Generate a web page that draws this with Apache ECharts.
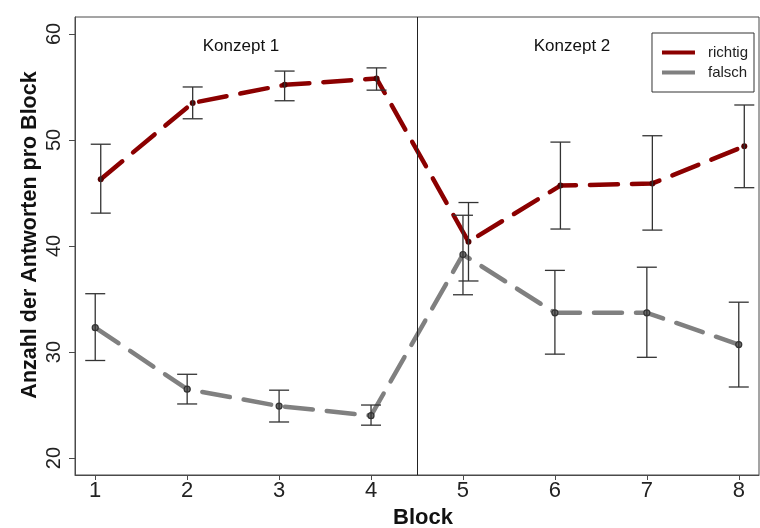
<!DOCTYPE html>
<html>
<head>
<meta charset="utf-8">
<script src="https://cdn.jsdelivr.net/npm/echarts@6/dist/echarts.min.js"></script>
<style>html,body{margin:0;padding:0;background:#fff}#c{width:760px;height:528px}</style>
</head>
<body>
<div id="c"></div>
<script>
const blocks = [1, 2, 3, 4, 5, 6, 7, 8];
const richtig = [46.3, 53.5, 55.2, 55.8, 40.4, 45.7, 45.9, 49.4];
const richtigLow = [43.1, 52.0, 53.7, 54.7, 36.7, 41.6, 41.5, 45.5];
const richtigHigh = [49.6, 55.0, 56.5, 56.8, 44.1, 49.8, 50.4, 53.3];
const falsch = [32.3, 26.5, 24.9, 24.0, 39.2, 33.7, 33.7, 30.7];
const falschLow = [29.2, 25.1, 23.4, 23.1, 35.4, 29.8, 29.5, 26.7];
const falschHigh = [35.5, 27.9, 26.4, 25.0, 42.9, 37.7, 38.0, 34.7];
const yTicks = [20, 30, 40, 50, 60];
const seriesNames = ['richtig', 'falsch'];
const conceptLabels = ['Konzept 1', 'Konzept 2'];
const conceptBoundary = 4.5;

const dodgeRichtig = 0.06;
const dodgeFalsch = 0;

function pts(vals, dodge) { return blocks.map((b, i) => [b + dodge, vals[i]]); }
function errs(lo, hi, dodge) { return blocks.map((b, i) => [b + dodge, lo[i], hi[i]]); }

function errRender(params, api) {
  const x = api.value(0), lo = api.value(1), hi = api.value(2);
  const a = api.coord([x, lo]), b = api.coord([x, hi]);
  const w = 10;
  const st = { stroke: '#333', lineWidth: 1.3 };
  return {
    type: 'group',
    children: [
      { type: 'line', shape: { x1: a[0], y1: a[1], x2: b[0], y2: b[1] }, style: st },
      { type: 'line', shape: { x1: a[0] - w, y1: a[1], x2: a[0] + w, y2: a[1] }, style: st },
      { type: 'line', shape: { x1: b[0] - w, y1: b[1], x2: b[0] + w, y2: b[1] }, style: st }
    ]
  };
}

const chart = echarts.init(document.getElementById('c'), null, { renderer: 'canvas' });
const font = "'Liberation Sans', Arial, sans-serif";
chart.setOption({
  animation: false,
  textStyle: { fontFamily: font },
  grid: { left: 75, top: 17, right: 1, bottom: 53, show: true, borderColor: '#4a4a4a', borderWidth: 1, containLabel: false, outerBoundsMode: 'none' },
  xAxis: {
    type: 'value', min: 0.78, max: 8.22,
    name: 'Block', nameLocation: 'middle', nameGap: 32, nameMoveOverlap: false,
    nameTextStyle: { fontSize: 22, fontWeight: 'bold', color: '#111', fontFamily: font, padding: [0, 0, 0, 12] },
    axisLine: { show: true, lineStyle: { color: '#4a4a4a', width: 1 } },
    axisTick: { show: true, length: 5, inside: false, customValues: blocks, lineStyle: { color: '#4a4a4a' } },
    axisLabel: { customValues: blocks, margin: 5, fontSize: 22, color: '#222', fontFamily: "'Liberation Sans Narrow', 'Arial Narrow', 'Liberation Sans', sans-serif" },
    splitLine: { show: false }
  },
  yAxis: {
    type: 'value', min: 18.4, max: 61.6,
    name: 'Anzahl der Antworten pro Block', nameLocation: 'middle', nameGap: 34, nameRotate: 90, nameMoveOverlap: false,
    nameTextStyle: { fontSize: 21.5, fontWeight: 'bold', color: '#111', fontFamily: font, padding: [0, 0, 0, 22] },
    axisLine: { show: true, lineStyle: { color: '#4a4a4a', width: 1 } },
    axisTick: { show: true, length: 6, customValues: yTicks, lineStyle: { color: '#4a4a4a' } },
    axisLabel: { customValues: yTicks, rotate: 90, margin: 11, fontSize: 20, color: '#222' },
    splitLine: { show: false }
  },
  legend: {
    right: 6, top: 33, orient: 'vertical',
    padding: [12, 6, 12, 10], itemGap: 5, itemWidth: 33, itemHeight: 4, icon: 'rect',
    borderColor: '#333', borderWidth: 1,
    textStyle: { fontSize: 15, color: '#222', padding: [0, 0, 0, 8], lineHeight: 14 },
    data: [
      { name: seriesNames[0], itemStyle: { color: '#8b0000', borderWidth: 0 } },
      { name: seriesNames[1], itemStyle: { color: '#808080', borderWidth: 0 } }
    ]
  },
  graphic: [
    { type: 'text', x: 241, y: 46, style: { text: conceptLabels[0], font: "17px 'Liberation Sans', Arial, sans-serif", fill: '#111', align: 'center', verticalAlign: 'middle' } },
    { type: 'text', x: 572, y: 46, style: { text: conceptLabels[1], font: "17px 'Liberation Sans', Arial, sans-serif", fill: '#111', align: 'center', verticalAlign: 'middle' } }
  ],
  series: [
    {
      name: seriesNames[0], type: 'line', data: pts(richtig, dodgeRichtig), z: 3,
      symbol: 'circle', symbolSize: 6, showSymbol: true,
      lineStyle: { color: '#8b0000', width: 4.5, type: [28, 14], cap: 'round' },
      itemStyle: { color: '#550000', borderWidth: 0 },
      markLine: {
        silent: true, symbol: 'none', label: { show: false },
        lineStyle: { color: '#222', width: 1, type: 'solid' },
        data: [{ xAxis: conceptBoundary }]
      }
    },
    {
      name: seriesNames[1], type: 'line', data: pts(falsch, dodgeFalsch), z: 3,
      symbol: 'circle', symbolSize: 6, showSymbol: true,
      lineStyle: { color: '#808080', width: 4.5, type: [28, 14], cap: 'round' },
      itemStyle: { color: '#6a6a6a', borderColor: '#333', borderWidth: 1.2 }
    },
    { type: 'custom', name: 'errR', renderItem: errRender, data: errs(richtigLow, richtigHigh, dodgeRichtig), encode: { x: 0, y: [1, 2] }, z: 4, silent: true },
    { type: 'custom', name: 'errF', renderItem: errRender, data: errs(falschLow, falschHigh, dodgeFalsch), encode: { x: 0, y: [1, 2] }, z: 4, silent: true }
  ]
});
</script>
</body>
</html>
